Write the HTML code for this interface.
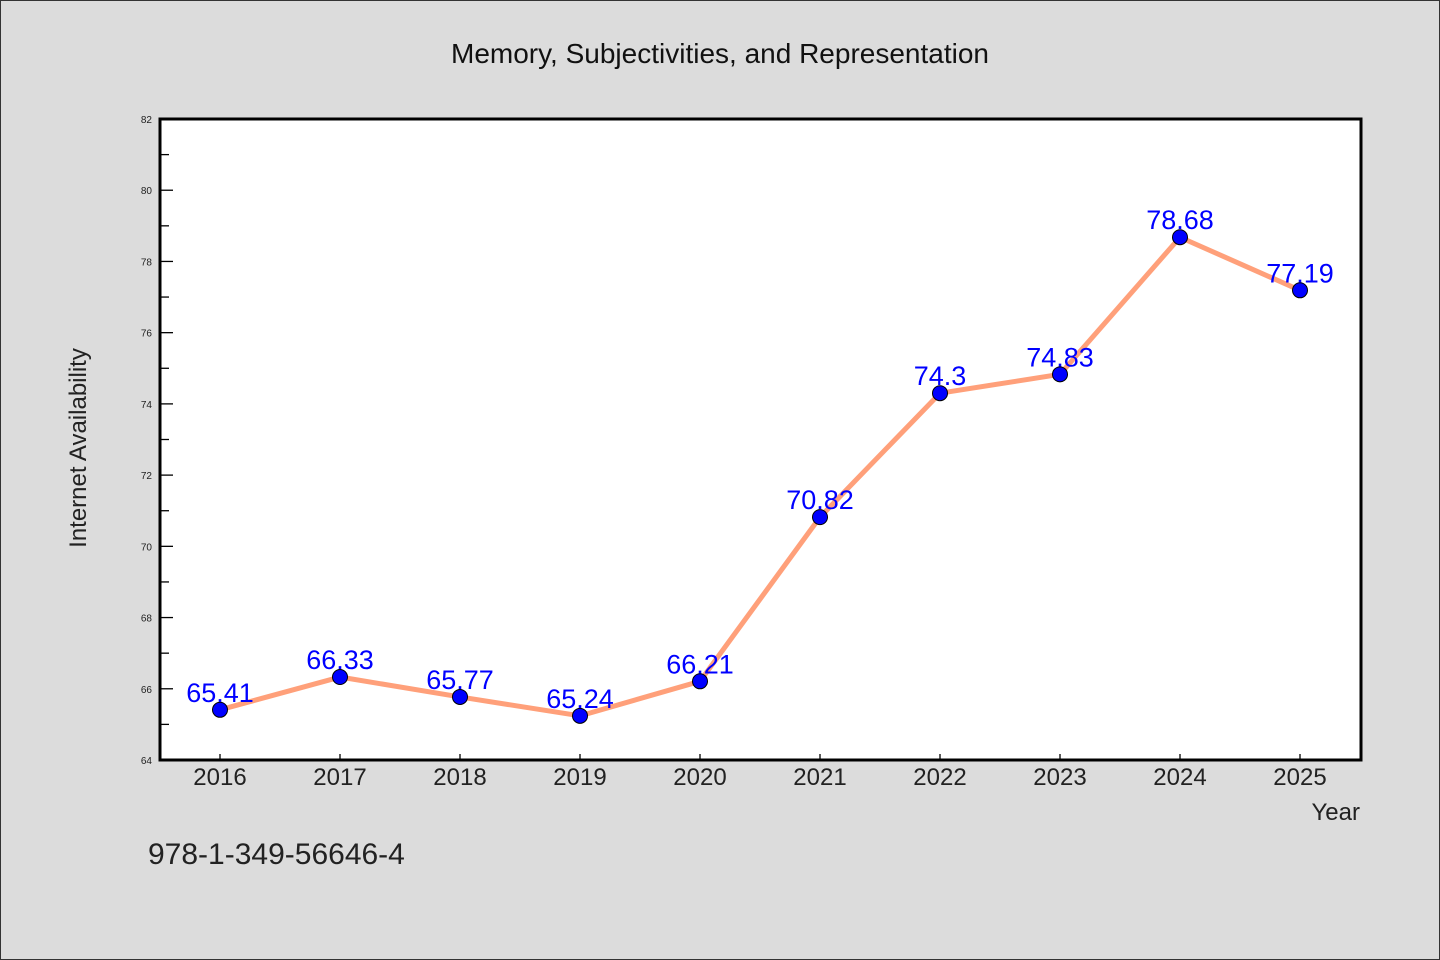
<!DOCTYPE html>
<html><head><meta charset="utf-8"><style>
html,body{margin:0;padding:0;background:#dcdcdc}
svg{display:block}
text{font-family:"WenQuanYi Zen Hei","Liberation Sans",sans-serif}
</style></head><body>
<svg id="chart" width="1440" height="960">
<rect x="0.5" y="0.5" width="1439" height="959" fill="#dcdcdc" stroke="#333"/>
<text x="720" y="63" text-anchor="middle" font-size="28" fill="#111">Memory, Subjectivities, and Representation</text>
<rect x="160" y="119" width="1201" height="641" fill="#fff"/>
<g id="axes"></g>
<g id="series"></g>
<rect x="160" y="119" width="1201" height="641" fill="none" stroke="#000" stroke-width="3"/>
<text x="86" y="448" text-anchor="middle" font-size="24" fill="#222" transform="rotate(-90 86 448)">Internet Availability</text>
<text x="1360" y="820" text-anchor="end" font-size="24" fill="#222">Year</text>
<text x="148" y="864" font-size="30" fill="#222">978-1-349-56646-4</text>
</svg>
<script>
const categories=["2016","2017","2018","2019","2020","2021","2022","2023","2024","2025"];
const values=[65.41,66.33,65.77,65.24,66.21,70.82,74.3,74.83,78.68,77.19];
const valueLabels=["65.41","66.33","65.77","65.24","66.21","70.82","74.3","74.83","78.68","77.19"];
const yTicks=[64,66,68,70,72,74,76,78,80,82];
const yMin=64,yMax=82;
const NS="http://www.w3.org/2000/svg";
function xs(i){return 220+i*(1300-220)/(categories.length-1);}
function ys(v){return 760-(v-yMin)/(yMax-yMin)*641;}
function mk(t,a,p){const e=document.createElementNS(NS,t);for(const k in a)e.setAttribute(k,a[k]);p.appendChild(e);return e;}
const ax=document.getElementById('axes'),sr=document.getElementById('series');
for(let v=yMin;v<=yMax;v++){
  const major=yTicks.includes(v);
  const l=mk('line',{x1:160,x2:major?173:169,y1:ys(v),y2:ys(v),stroke:'#000','stroke-width':1.3},ax);
  
  
}
yTicks.forEach(v=>{
  const t=mk('text',{x:152,y:ys(v)+4,'text-anchor':'end','font-size':10,fill:'#222'},ax);
  t.textContent=v;
  
  
});
categories.forEach((c,i)=>{
  const l=mk('line',{x1:xs(i),x2:xs(i),y1:760,y2:754,stroke:'#000','stroke-width':1.3},ax);
  
  
  const t=mk('text',{x:xs(i),y:785,'text-anchor':'middle','font-size':24,fill:'#222'},ax);
  t.textContent=c;
  
  
});
const line=mk('polyline',{points:values.map((v,i)=>xs(i)+','+ys(v)).join(' '),fill:'none',stroke:'#ffa07a','stroke-width':5,'stroke-linejoin':'round'},sr);


values.forEach((v,i)=>{
  const c=mk('circle',{cx:xs(i),cy:ys(v),r:7.5,fill:'#0000ff',stroke:'#000','stroke-width':1},sr);
  
  
});
values.forEach((v,i)=>{
  const t=mk('text',{x:xs(i),y:ys(v)-8,'text-anchor':'middle','font-size':27,fill:'#0000ff'},sr);
  t.textContent=valueLabels[i];
  
  
});
</script>
</body></html>
